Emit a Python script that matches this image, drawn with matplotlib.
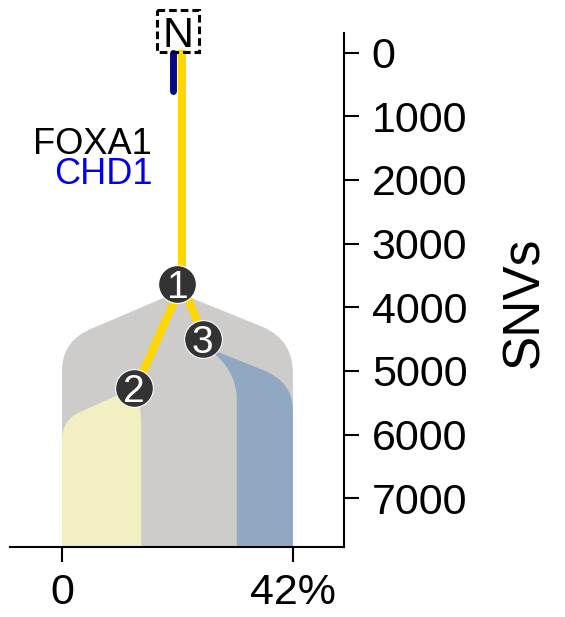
import matplotlib as mpl
mpl.use('Agg')
import matplotlib.pyplot as plt
from matplotlib.path import Path
from matplotlib.patches import PathPatch, Rectangle

#
#--- clone tree data (x: cellular prevalence %, y: SNVs)
#
node_names = ['1', '2', '3']
node_x     = [21.0, 13.1, 25.6]
node_y     = [3637, 5262, 4501]
node_par   = [-1, 0, 0]

trunk_top  = -40
chd1_y     = [0, 610]

x_ticks    = [0, 42]
x_labels   = ['0', '42%']
y_ticks    = [0, 1000, 2000, 3000, 4000, 5000, 6000, 7000]

gene_names  = ['FOXA1', 'CHD1']
gene_colors = ['black', '#0000ee']
gene_y      = [1590, 2068]
#
#--- clone shapes: outline points (x, y) and path codes
#
M, L, Q = Path.MOVETO, Path.LINETO, Path.CURVE3

grey_x = [20.9, 5.6, 0.0, 0.0, 0.0, 42.0, 42.0, 42.0, 36.6, 20.9]
grey_y = [3763, 4328, 4516, 4987, 7800, 7800, 5035, 4516, 4312, 3763]
grey_c = [M, L, Q, Q, L, L, L, Q, Q, L]

yell_x = [13.1, 14.4, 14.4, 14.4, 0.0, 0.0, 0.0, 3.3, 13.1]
yell_y = [5262, 5450, 5900, 7800, 7800, 6087, 5772, 5647, 5262]
yell_c = [M, Q, Q, L, L, L, Q, Q, L]

blue_x = [26.2, 36.6, 42.0, 42.0, 42.0, 31.8, 31.8, 31.8, 26.2]
blue_y = [4630, 4987, 5176, 5616, 7800, 7800, 5460, 4956, 4630]
blue_c = [M, L, Q, Q, L, L, L, Q, Q]

shape_cols = ['#cdcccb', '#f2efc3', '#91a8c3']

#--------------------------------------------------------------------

def draw_shape(ax, xs, ys, codes, col):
    path = Path(list(zip(xs, ys)), codes)
    ax.add_patch(PathPatch(path, facecolor=col, edgecolor='none', zorder=1))

#--------------------------------------------------------------------

def plot_tree():

    plt.rcParams['font.family'] = ['Liberation Sans', 'DejaVu Sans']

    fig = plt.figure(figsize=(5.65, 6.17), dpi=100)
    ax  = fig.add_axes([0.0177, 0.1135, 0.5912, 0.833])
#
#--- clone shapes
#
    draw_shape(ax, grey_x, grey_y, grey_c, shape_cols[0])
    draw_shape(ax, yell_x, yell_y, yell_c, shape_cols[1])
    draw_shape(ax, blue_x, blue_y, blue_c, shape_cols[2])
#
#--- trunk and branches
#
    off = 0.77
    ax.plot([node_x[0] + off, node_x[0] + off], [trunk_top, node_y[0]],
            color='#ffd700', lw=5.8, solid_capstyle='butt', zorder=3)
    ax.plot([node_x[0] - 0.82, node_x[0] - 0.82], chd1_y,
            color='#0a0a82', lw=5.0, solid_capstyle='round', zorder=3)

    for i in range(len(node_names)):
        p = node_par[i]
        if p < 0:
            continue
        ax.plot([node_x[p] + off, node_x[i] + off * 0.5], [node_y[p], node_y[i]],
                color='#ffd700', lw=5.8, solid_capstyle='butt', zorder=3)
#
#--- nodes
#
    ax.scatter(node_x, node_y, s=740, color='#333333', edgecolor='white',
               linewidth=0.8, zorder=4)
    for i in range(len(node_names)):
        ax.text(node_x[i], node_y[i], node_names[i], color='white', fontsize=28,
                ha='center', va='center_baseline', zorder=5)
#
#--- root label in dashed box
#
    ax.add_patch(Rectangle((17.3, -664), 7.6, 659, fill=False, edgecolor='black',
                           lw=2.2, linestyle=(0, (2.5, 1.3)), clip_on=False, zorder=6))
    ax.text(21.1, -330, 'N', fontsize=31, ha='center', va='center_baseline',
            clip_on=False, zorder=6)
#
#--- gene labels
#
    for i in range(len(gene_names)):
        ax.text(16.4, gene_y[i], gene_names[i], color=gene_colors[i], fontsize=26,
                ha='right', va='baseline')
#
#--- axes
#
    ax.set_xlim(-9.47, 51.3)
    ax.set_ylim(7766, -308)

    ax.spines['left'].set_visible(False)
    ax.spines['top'].set_visible(False)
    ax.spines['right'].set_linewidth(1.5)
    ax.spines['bottom'].set_linewidth(1.5)

    ax.yaxis.tick_right()
    ax.set_yticks(y_ticks)
    ax.set_xticks(x_ticks)
    ax.set_xticklabels(x_labels)
    ax.tick_params(axis='both', labelsize=31, length=11, width=1.5, direction='out')
    ax.tick_params(axis='y', pad=9)
    ax.tick_params(axis='x', pad=8)

    fig.text(0.929, 0.5105, 'SNVs', fontsize=37, rotation=90, ha='center', va='center')

    plt.savefig('out.png', format='png', dpi=100)
    plt.close('all')

#--------------------------------------------------------------------

if __name__ == '__main__':

    plot_tree()
